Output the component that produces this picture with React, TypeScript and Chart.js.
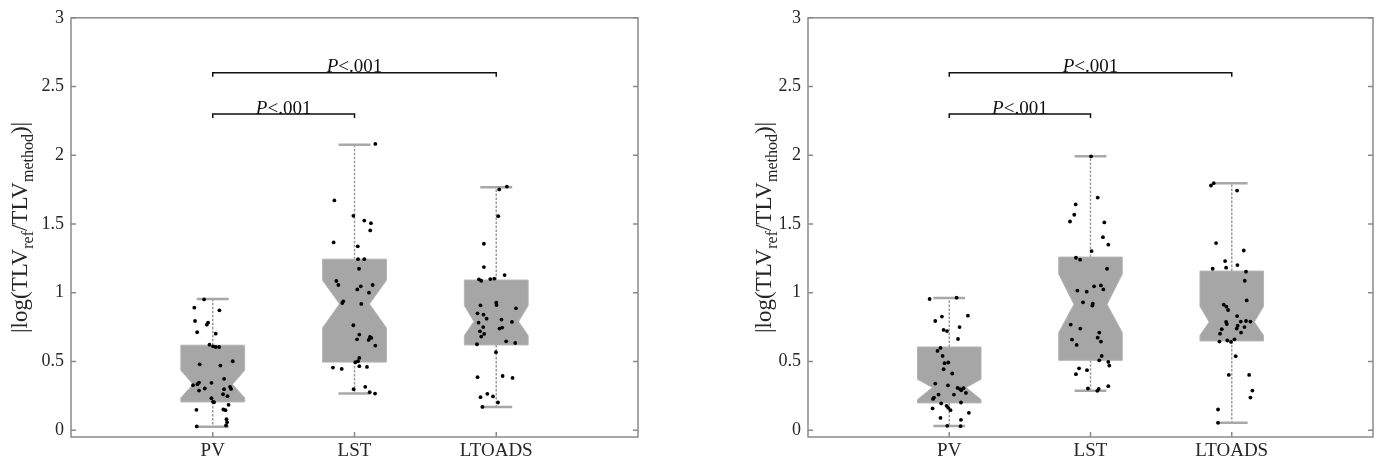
import React, { useEffect, useRef } from "react";
import { Chart, registerables } from "chart.js";

Chart.register(...registerables);

// ---------- data ----------
const categories = ["PV", "LST", "LTOADS"];
const yTickValues = [0, 0.5, 1, 1.5, 2, 2.5, 3];

const bracketFrom = [1, 1];
const bracketTo = [2, 3];
const bracketLevel = [2.3, 2.6];
const bracketItalic = ["P", "P"];
const bracketRest = ["<.001", "<.001"];

// [lowerWhisker, q1, notchLow, median, notchHigh, q3, upperWhisker]
const leftBoxStats = [
  [0.024, 0.205, 0.235, 0.333, 0.435, 0.618, 0.954],
  [0.266, 0.495, 0.744, 0.918, 1.09, 1.244, 2.077],
  [0.169, 0.62, 0.688, 0.79, 0.906, 1.092, 1.768],
];
const rightBoxStats = [
  [0.03, 0.198, 0.222, 0.31, 0.37, 0.605, 0.962],
  [0.286, 0.508, 0.71, 0.915, 1.135, 1.259, 1.992],
  [0.053, 0.649, 0.69, 0.787, 0.9, 1.157, 1.797],
];

const leftPvValues = [0.951, 0.891, 0.872, 0.794, 0.782, 0.767, 0.712, 0.702, 0.622, 0.61, 0.605, 0.605, 0.479, 0.501, 0.47, 0.373, 0.346, 0.344, 0.327, 0.334, 0.303, 0.288, 0.298, 0.315, 0.3, 0.261, 0.247, 0.232, 0.206, 0.203, 0.184, 0.148, 0.15, 0.145, 0.08, 0.058, 0.034, 0.027];
const leftPvJitter = [-0.061, -0.13, 0.047, -0.125, -0.033, -0.042, -0.11, 0.021, -0.023, 0.002, 0.021, 0.045, -0.092, 0.141, 0.054, 0.08, -0.097, -0.009, -0.139, -0.108, -0.056, -0.097, 0.08, 0.122, 0.129, 0.073, 0.104, -0.009, 0.002, 0.009, 0.111, -0.115, 0.075, 0.09, 0.097, 0.101, 0.094, -0.113];

const leftLstValues = [2.082, 1.671, 1.559, 1.525, 1.506, 1.453, 1.366, 1.337, 1.244, 1.244, 1.174, 1.085, 1.056, 1.046, 1.056, 1.024, 1.0, 0.937, 0.925, 0.918, 0.763, 0.695, 0.661, 0.678, 0.671, 0.656, 0.615, 0.525, 0.501, 0.494, 0.455, 0.445, 0.465, 0.46, 0.298, 0.315, 0.276, 0.266];
const leftLstJitter = [0.147, -0.142, -0.008, 0.069, 0.116, 0.111, -0.147, 0.023, 0.025, 0.069, 0.032, -0.128, -0.114, 0.044, 0.128, 0.02, 0.102, -0.079, -0.086, 0.048, -0.008, 0.034, 0.018, 0.109, 0.119, 0.1, 0.147, 0.034, 0.025, 0.006, -0.152, -0.09, 0.034, 0.088, -0.006, 0.076, 0.107, 0.145];

const leftLtoadsValues = [1.772, 1.751, 1.557, 1.356, 1.186, 1.128, 1.097, 1.087, 1.099, 1.102, 0.928, 0.91, 0.908, 0.886, 0.85, 0.84, 0.811, 0.804, 0.787, 0.782, 0.75, 0.746, 0.739, 0.719, 0.7, 0.681, 0.646, 0.634, 0.625, 0.567, 0.385, 0.394, 0.38, 0.264, 0.24, 0.245, 0.201, 0.169];
const leftLtoadsJitter = [0.075, 0.021, 0.014, -0.087, -0.087, 0.059, -0.122, -0.106, -0.042, -0.014, 0.0, 0.002, -0.111, 0.139, -0.132, -0.09, -0.068, 0.037, 0.111, -0.125, -0.092, 0.042, 0.023, -0.115, -0.085, -0.106, 0.07, 0.134, -0.136, -0.002, -0.132, 0.045, 0.115, -0.063, -0.111, -0.023, 0.012, -0.097];

const rightPvValues = [0.954, 0.964, 0.826, 0.833, 0.794, 0.75, 0.729, 0.721, 0.663, 0.598, 0.576, 0.54, 0.487, 0.492, 0.443, 0.412, 0.339, 0.325, 0.307, 0.298, 0.305, 0.29, 0.271, 0.259, 0.259, 0.237, 0.227, 0.201, 0.194, 0.177, 0.162, 0.145, 0.158, 0.126, 0.089, 0.075, 0.031, 0.029];
const rightPvJitter = [-0.139, 0.052, -0.052, 0.132, -0.099, 0.073, -0.04, -0.016, 0.062, -0.062, -0.083, -0.047, -0.033, -0.007, -0.04, 0.021, -0.099, -0.009, 0.059, 0.078, 0.101, 0.085, 0.118, -0.076, 0.033, -0.108, -0.115, 0.083, -0.057, -0.019, -0.007, 0.009, -0.118, 0.139, -0.062, 0.083, -0.014, 0.08];

const rightLstValues = [1.992, 1.692, 1.642, 1.567, 1.518, 1.511, 1.404, 1.349, 1.303, 1.254, 1.24, 1.174, 1.046, 1.053, 1.024, 1.015, 1.007, 0.93, 0.92, 0.906, 0.768, 0.739, 0.71, 0.673, 0.659, 0.644, 0.62, 0.54, 0.508, 0.496, 0.47, 0.45, 0.436, 0.407, 0.32, 0.303, 0.3, 0.286];
const rightLstJitter = [0.004, 0.051, -0.105, -0.115, -0.145, 0.098, 0.088, 0.126, 0.008, -0.103, -0.074, 0.117, 0.025, 0.074, 0.091, -0.093, -0.027, -0.053, 0.016, 0.013, -0.14, -0.072, 0.062, 0.051, -0.131, 0.074, -0.098, 0.079, 0.062, 0.126, 0.133, -0.081, -0.025, -0.103, 0.126, -0.018, 0.058, 0.048];

const rightLtoadsValues = [1.797, 1.78, 1.743, 1.361, 1.307, 1.23, 1.201, 1.182, 1.174, 1.153, 1.087, 0.944, 0.913, 0.898, 0.874, 0.83, 0.787, 0.79, 0.794, 0.79, 0.772, 0.76, 0.75, 0.734, 0.739, 0.71, 0.702, 0.652, 0.642, 0.661, 0.644, 0.538, 0.402, 0.402, 0.288, 0.237, 0.15, 0.053];
const rightLtoadsJitter = [-0.127, -0.147, 0.038, -0.111, 0.085, -0.047, 0.04, -0.04, -0.135, 0.101, 0.092, 0.106, -0.057, -0.038, -0.026, 0.038, -0.04, 0.064, 0.101, 0.132, -0.035, 0.042, 0.09, -0.071, 0.035, 0.066, -0.083, -0.031, -0.005, 0.019, -0.087, 0.028, -0.021, 0.123, 0.146, 0.132, -0.097, -0.097];

// ---------- styles ----------
const FONT = '"Liberation Serif", "DejaVu Serif", serif';
const TEXT_COLOR = "#262626";
const FRAME_COLOR = "#8a8a8a";
const BOX_COLOR = "#a6a6a6";
const BOX_HALF = 0.225;
const CAP_HALF = 0.1125;
const TICK_SIZE = 18;
const XLABEL_SIZE = 19;
const leftWaist = [0.62, 0.47, 0.7];
const rightWaist = [0.53, 0.52, 0.71];

type Panel = {
  canvasLeft: number;
  areaLeft: number;
  areaRight: number;
  titleX: number;
  stats: number[][];
  waist: number[];
  values: number[][];
  jitter: number[][];
};

const panels: Panel[] = [
  {
    canvasLeft: 0,
    areaLeft: 71,
    areaRight: 638,
    titleX: 21,
    stats: leftBoxStats,
    waist: leftWaist,
    values: [leftPvValues, leftLstValues, leftLtoadsValues],
    jitter: [leftPvJitter, leftLstJitter, leftLtoadsJitter],
  },
  {
    canvasLeft: 690,
    areaLeft: 118,
    areaRight: 683,
    titleX: 75,
    stats: rightBoxStats,
    waist: rightWaist,
    values: [rightPvValues, rightLstValues, rightLtoadsValues],
    jitter: [rightPvJitter, rightLstJitter, rightLtoadsJitter],
  },
];

const W = 690;
const H = 462;

function makePlugin(p: Panel) {
  return {
    id: "panelDecor",
    beforeDatasetsDraw(chart: any) {
      const { ctx, scales } = chart;
      const x = scales.x;
      const y = scales.y;
      const py = (v: number) => y.getPixelForValue(v);
      ctx.save();
      p.stats.forEach((s, i) => {
        const c = i + 1;
        const [lw, q1, nlo, med, nhi, q3, uw] = s;
        const xc = x.getPixelForValue(c);
        const xl = x.getPixelForValue(c - BOX_HALF);
        const xr = x.getPixelForValue(c + BOX_HALF);
        const wl = x.getPixelForValue(c - BOX_HALF * p.waist[i]);
        const wr = x.getPixelForValue(c + BOX_HALF * p.waist[i]);
        const cl = x.getPixelForValue(c - CAP_HALF);
        const cr = x.getPixelForValue(c + CAP_HALF);
        // whiskers
        ctx.strokeStyle = "#9c9c9c";
        ctx.lineWidth = 1.5;
        ctx.setLineDash([2.5, 1.5]);
        ctx.beginPath();
        ctx.moveTo(xc, py(q3));
        ctx.lineTo(xc, py(uw));
        ctx.moveTo(xc, py(q1));
        ctx.lineTo(xc, py(lw));
        ctx.stroke();
        ctx.setLineDash([]);
        // caps
        ctx.strokeStyle = "#a8a8a8";
        ctx.lineWidth = 2.5;
        ctx.beginPath();
        ctx.moveTo(cl, py(uw));
        ctx.lineTo(cr, py(uw));
        ctx.moveTo(cl, py(lw));
        ctx.lineTo(cr, py(lw));
        ctx.stroke();
        // notched box
        ctx.beginPath();
        ctx.moveTo(xl, py(q3));
        ctx.lineTo(xr, py(q3));
        ctx.lineTo(xr, py(nhi));
        ctx.lineTo(wr, py(med));
        ctx.lineTo(xr, py(nlo));
        ctx.lineTo(xr, py(q1));
        ctx.lineTo(xl, py(q1));
        ctx.lineTo(xl, py(nlo));
        ctx.lineTo(wl, py(med));
        ctx.lineTo(xl, py(nhi));
        ctx.closePath();
        ctx.fillStyle = BOX_COLOR;
        ctx.fill();
        ctx.strokeStyle = "#b4b4b4";
        ctx.lineWidth = 1;
        ctx.stroke();
      });
      ctx.restore();
    },
    afterDraw(chart: any) {
      const { ctx, chartArea: a, scales } = chart;
      const x = scales.x;
      const y = scales.y;
      ctx.save();
      // frame
      ctx.strokeStyle = FRAME_COLOR;
      ctx.lineWidth = 1.5;
      ctx.strokeRect(a.left, a.top, a.right - a.left, a.bottom - a.top);
      // tick marks
      ctx.beginPath();
      yTickValues.forEach((v) => {
        const yy = y.getPixelForValue(v);
        ctx.moveTo(a.left, yy);
        ctx.lineTo(a.left + 5, yy);
        ctx.moveTo(a.right, yy);
        ctx.lineTo(a.right - 5, yy);
      });
      categories.forEach((_, i) => {
        const xx = x.getPixelForValue(i + 1);
        ctx.moveTo(xx, a.bottom);
        ctx.lineTo(xx, a.bottom - 5);
      });
      ctx.stroke();

      // significance brackets
      ctx.strokeStyle = "#111";
      ctx.fillStyle = "#111";
      ctx.lineWidth = 1.5;
      bracketLevel.forEach((lvl, k) => {
        const x1 = x.getPixelForValue(bracketFrom[k]);
        const x2 = x.getPixelForValue(bracketTo[k]);
        const yb = y.getPixelForValue(lvl);
        ctx.beginPath();
        ctx.moveTo(x1, yb + 4);
        ctx.lineTo(x1, yb);
        ctx.lineTo(x2, yb);
        ctx.lineTo(x2, yb + 4);
        ctx.stroke();
        const it = bracketItalic[k];
        const rest = bracketRest[k];
        ctx.font = `italic 19px ${FONT}`;
        const w1 = ctx.measureText(it).width;
        ctx.font = `19px ${FONT}`;
        const w2 = ctx.measureText(rest).width;
        const start = (x1 + x2) / 2 - (w1 + w2) / 2;
        ctx.textBaseline = "alphabetic";
        ctx.textAlign = "left";
        ctx.font = `italic 19px ${FONT}`;
        ctx.fillText(it, start, yb - 0.5);
        ctx.font = `19px ${FONT}`;
        ctx.fillText(rest, start + w1, yb - 0.5);
      });

      // y axis title with subscripts
      const parts = [
        { t: "|log(TLV", sub: false },
        { t: "ref", sub: true },
        { t: "/TLV", sub: false },
        { t: "method", sub: true },
        { t: ")|", sub: false },
      ];
      const mainFont = `23px ${FONT}`;
      const subFont = `16px ${FONT}`;
      let total = 0;
      const widths = parts.map((pt) => {
        ctx.font = pt.sub ? subFont : mainFont;
        const w = ctx.measureText(pt.t).width;
        total += w;
        return w;
      });
      ctx.translate(p.titleX, (a.top + a.bottom) / 2);
      ctx.rotate(-Math.PI / 2);
      ctx.fillStyle = TEXT_COLOR;
      ctx.textBaseline = "middle";
      ctx.textAlign = "left";
      let cx = -total / 2;
      parts.forEach((pt, i) => {
        ctx.font = pt.sub ? subFont : mainFont;
        ctx.fillText(pt.t, cx, pt.sub ? 8 : 0);
        cx += widths[i];
      });
      ctx.restore();
    },
  };
}

function PanelChart({ p }: { p: Panel }) {
  const ref = useRef<HTMLCanvasElement | null>(null);
  useEffect(() => {
    if (!ref.current) return;
    const points: { x: number; y: number }[] = [];
    p.values.forEach((vals, gi) =>
      vals.forEach((v, i) => points.push({ x: gi + 1 + p.jitter[gi][i], y: v }))
    );
    const chart = new Chart(ref.current, {
      type: "scatter",
      data: {
        datasets: [
          {
            data: points,
            pointRadius: 1.9,
            pointBackgroundColor: "#000",
            pointBorderWidth: 0,
            showLine: false,
          },
        ],
      },
      options: {
        animation: false,
        responsive: false,
        events: [],
        layout: { padding: { top: 17, right: W - p.areaRight, bottom: 0, left: 0 } },
        plugins: { legend: { display: false }, tooltip: { enabled: false } },
        scales: {
          x: {
            type: "linear",
            min: 0,
            max: 4,
            afterBuildTicks: (s: any) => {
              s.ticks = categories.map((_, i) => ({ value: i + 1 }));
            },
            afterFit: (s: any) => {
              s.height = 25;
            },
            grid: { display: false, drawTicks: false },
            border: { display: false },
            ticks: {
              autoSkip: false,
              maxRotation: 0,
              padding: 3,
              color: TEXT_COLOR,
              font: { family: FONT, size: XLABEL_SIZE },
              callback: (v: any) => categories[Math.round(Number(v)) - 1] ?? "",
            },
          },
          y: {
            type: "linear",
            min: -0.05,
            max: 3,
            afterBuildTicks: (s: any) => {
              s.ticks = yTickValues.map((v) => ({ value: v }));
            },
            afterFit: (s: any) => {
              s.width = p.areaLeft;
            },
            grid: { display: false, drawTicks: false },
            border: { display: false },
            ticks: {
              padding: 7,
              color: TEXT_COLOR,
              font: { family: FONT, size: TICK_SIZE },
              callback: (v: any) => String(v),
            },
          },
        },
      },
      plugins: [makePlugin(p)],
    } as any);
    return () => chart.destroy();
  }, [p]);
  return (
    <div style={{ position: "absolute", left: p.canvasLeft, top: 0, width: W, height: H }}>
      <canvas ref={ref} width={W} height={H} style={{ width: W, height: H, display: "block" }} />
    </div>
  );
}

export default function App() {
  return (
    <div style={{ position: "absolute", left: 0, top: 0, width: 1380, height: 462, background: "#fff" }}>
      {panels.map((p, i) => (
        <PanelChart key={i} p={p} />
      ))}
    </div>
  );
}
